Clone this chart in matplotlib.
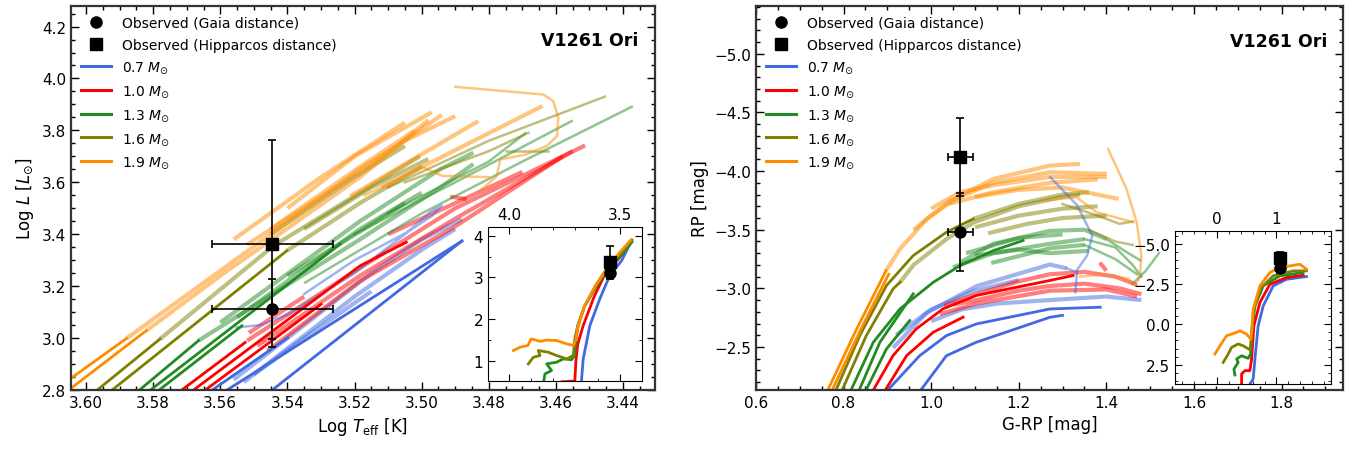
import matplotlib
matplotlib.use("Agg")
import matplotlib.pyplot as plt
from matplotlib.lines import Line2D
from matplotlib.ticker import MultipleLocator

# ---------------------------------------------------------------
# observed values
obs_teff = 3.5445
obs_teff_err = 0.018
obs_logl_gaia = 3.111
obs_logl_gaia_err = 0.115
obs_logl_hip = 3.364
obs_logl_hip_err = 0.398

obs_grp = 1.067
obs_grp_err = 0.029
obs_rp_gaia = -3.48
obs_rp_hip = -4.12
obs_rp_err = 0.33

masses = ["0.7", "1.0", "1.3", "1.6", "1.9"]
colors = ["royalblue", "red", "forestgreen", "olive", "darkorange"]

# ---------------------------------------------------------------
# HR diagram tracks (log Teff, log L)
# solid = fitted part, faded = rest of the track, thin = faded loops
hr_solid_07 = [
    ([3.5455, 3.488], [2.79, 3.374]),
    ([3.5592, 3.488], [2.79, 3.374]),
    ([3.5635, 3.540], [2.79, 3.00]),
]
hr_faded_07 = [
    ([3.556, 3.548, 3.530, 3.515, 3.500, 3.488], [2.84, 2.92, 3.10, 3.25, 3.38, 3.458]),
    ([3.553, 3.540, 3.520, 3.500, 3.490], [2.83, 2.96, 3.16, 3.34, 3.42]),
    ([3.550, 3.535, 3.515], [2.86, 3.00, 3.18]),
]
hr_thin_07 = [
    ([3.5551, 3.548, 3.540, 3.520, 3.505, 3.497, 3.494, 3.497, 3.5044, 3.520, 3.535],
     [3.041, 3.05, 3.09, 3.25, 3.40, 3.49, 3.51, 3.47, 3.407, 3.30, 3.17]),
]
hr_solid_10 = [
    ([3.5725, 3.5526], [2.79, 2.983]),
    ([3.569, 3.5184, 3.5046], [2.79, 3.278, 3.369]),
    ([3.5655, 3.530], [2.79, 3.13]),
]
hr_faded_10 = [
    ([3.552, 3.5184, 3.49, 3.4513], [2.99, 3.27, 3.50, 3.742]),
    ([3.549, 3.5184, 3.49, 3.455], [2.97, 3.24, 3.46, 3.72]),
    ([3.546, 3.5184, 3.49, 3.458], [2.95, 3.22, 3.43, 3.70]),
    ([3.5515, 3.535], [3.02, 3.16]),
    ([3.4915, 3.4866], [3.545, 3.535]),
    ([3.510, 3.470], [3.40, 3.64]),
]
hr_thin_10 = []
hr_solid_13 = [
    ([3.585, 3.5665], [2.79, 2.99]),
    ([3.5818, 3.5243], [2.79, 3.362]),
    ([3.5792, 3.5536], [2.79, 3.047]),
]
hr_faded_13 = [
    ([3.5665, 3.5184, 3.4945, 3.4846], [2.99, 3.38, 3.58, 3.67]),
    ([3.560, 3.5184, 3.4945, 3.4846], [3.06, 3.45, 3.65, 3.714]),
    ([3.555, 3.5184, 3.500], [3.08, 3.42, 3.56]),
    ([3.540, 3.5184, 3.505], [3.24, 3.41, 3.52]),
]
hr_thin_13 = [
    ([3.5347, 3.500, 3.470, 3.4374], [3.214, 3.48, 3.68, 3.891]),
    ([3.520, 3.490, 3.4553], [3.40, 3.60, 3.836]),
    ([3.510, 3.480, 3.4692], [3.48, 3.68, 3.788]),
]
hr_solid_16 = [
    ([3.5976, 3.578], [2.79, 2.996]),
    ([3.5932, 3.5402], [2.79, 3.336]),
]
hr_faded_16 = [
    ([3.578, 3.5442, 3.5184, 3.5005], [2.996, 3.355, 3.56, 3.701]),
    ([3.5402, 3.5184, 3.500], [3.336, 3.52, 3.66]),
    ([3.545, 3.520, 3.505], [3.40, 3.62, 3.74]),
    ([3.535, 3.515, 3.498], [3.42, 3.58, 3.69]),
]
hr_thin_16 = [
    ([3.510, 3.480, 3.4454], [3.58, 3.76, 3.93]),
    ([3.505, 3.480, 3.4682], [3.60, 3.72, 3.791]),
    ([3.475, 3.4625], [3.72, 3.72]),
]
hr_solid_19 = [
    ([3.610, 3.5879], [2.794, 2.999]),
    ([3.610, 3.5821], [2.752, 3.028]),
]
hr_faded_19 = [
    ([3.5879, 3.5442, 3.5184, 3.505, 3.490], [2.999, 3.407, 3.65, 3.76, 3.855]),
    ([3.5821, 3.560, 3.5184, 3.498], [3.028, 3.24, 3.62, 3.84]),
    ([3.552, 3.5184, 3.494], [3.36, 3.64, 3.86]),
    ([3.545, 3.5184, 3.502], [3.42, 3.66, 3.80]),
    ([3.556, 3.530, 3.505], [3.38, 3.62, 3.83]),
    ([3.540, 3.520, 3.497], [3.50, 3.70, 3.87]),
    ([3.5213, 3.4831], [3.547, 3.836]),
    ([3.512, 3.464], [3.58, 3.894]),
]
hr_thin_19 = [
    ([3.490, 3.4637, 3.4608, 3.4593, 3.4597, 3.4627, 3.4687, 3.4766, 3.4776, 3.4826],
     [3.968, 3.938, 3.913, 3.849, 3.778, 3.740, 3.708, 3.688, 3.624, 3.567]),
    ([3.517, 3.500, 3.494, 3.480], [3.55, 3.66, 3.625, 3.62]),
]

# HR inset: full tracks
ins_hr_x = [
    [3.675, 3.673, 3.665, 3.635, 3.590, 3.545, 3.492, 3.447],
    [3.760, 3.703, 3.698, 3.690, 3.665, 3.615, 3.565, 3.505, 3.450],
    [3.845, 3.838, 3.808, 3.830, 3.785, 3.755, 3.718, 3.703, 3.698, 3.688,
     3.660, 3.610, 3.560, 3.500, 3.445],
    [3.913, 3.890, 3.860, 3.868, 3.823, 3.785, 3.740, 3.710, 3.703, 3.690,
     3.660, 3.610, 3.560, 3.500, 3.445],
    [3.980, 3.950, 3.915, 3.900, 3.880, 3.860, 3.830, 3.785, 3.740, 3.710,
     3.698, 3.690, 3.660, 3.610, 3.560, 3.500, 3.450],
]
ins_hr_y = [
    [0.30, 0.52, 1.05, 1.85, 2.49, 3.05, 3.40, 3.88],
    [0.50, 0.52, 1.00, 1.40, 1.85, 2.55, 3.10, 3.45, 3.85],
    [0.45, 0.69, 0.77, 0.93, 0.97, 1.05, 1.03, 1.13, 1.50, 1.85,
     2.30, 2.75, 3.15, 3.50, 3.85],
    [0.93, 1.09, 1.13, 1.25, 1.21, 1.13, 1.05, 1.13, 1.53, 1.85,
     2.30, 2.80, 3.20, 3.55, 3.90],
    [1.25, 1.33, 1.37, 1.53, 1.50, 1.47, 1.50, 1.49, 1.41, 1.37,
     1.50, 1.80, 2.30, 2.80, 3.20, 3.60, 3.90],
]

# ---------------------------------------------------------------
# CMD tracks (G-RP, RP)
cmd_solid_07 = [
    ([0.893, 0.974, 1.035, 1.103, 1.271, 1.386], [-2.10, -2.426, -2.597, -2.696, -2.824, -2.839]),
    ([0.970, 1.035, 1.103, 1.271, 1.300], [-2.10, -2.426, -2.54, -2.753, -2.77]),
]
cmd_faded_07 = [
    ([0.913, 0.990, 1.103, 1.271, 1.310], [-2.493, -2.791, -3.018, -3.203, -3.17]),
    ([1.000, 1.070, 1.150, 1.271, 1.400, 1.480], [-2.72, -2.82, -2.87, -2.90, -2.93, -2.90]),
    ([0.920, 1.000, 1.100, 1.200], [-2.60, -2.82, -2.98, -3.07]),
]
cmd_thin_07 = [
    ([1.310, 1.330, 1.356, 1.368, 1.333, 1.272], [-3.17, -3.14, -3.28, -3.45, -3.71, -3.948]),
    ([1.329, 1.333], [-2.967, -3.137]),
]
cmd_solid_10 = [
    ([0.863, 0.913, 0.966, 1.027, 1.103, 1.271, 1.324], [-2.10, -2.426, -2.654, -2.825, -2.939, -3.067, -3.109]),
    ([0.890, 0.944, 1.005, 1.073], [-2.10, -2.426, -2.626, -2.754]),
]
cmd_faded_10 = [
    ([1.030, 1.103, 1.200, 1.271, 1.350, 1.420, 1.470], [-2.85, -2.95, -3.06, -3.12, -3.14, -3.10, -3.03]),
    ([1.050, 1.103, 1.200, 1.271, 1.350, 1.430, 1.480], [-2.86, -2.90, -2.98, -3.02, -3.04, -3.00, -2.95]),
    ([1.020, 1.103, 1.271, 1.400, 1.470], [-2.78, -2.87, -2.98, -2.99, -2.93]),
    ([1.385, 1.400], [-3.22, -3.15]),
]
cmd_thin_10 = []
cmd_solid_13 = [
    ([0.813, 0.868, 0.929, 1.005, 1.066, 1.142, 1.210], [-2.10, -2.540, -2.825, -3.052, -3.194, -3.322, -3.408]),
    ([0.832, 0.883, 0.959], [-2.10, -2.540, -2.953]),
    ([0.847, 0.898, 0.951], [-2.10, -2.483, -2.725]),
]
cmd_faded_13 = [
    ([1.066, 1.142, 1.271, 1.350, 1.400], [-3.22, -3.38, -3.49, -3.50, -3.42]),
    ([1.050, 1.142, 1.271, 1.350], [-3.18, -3.30, -3.38, -3.42]),
    ([1.100, 1.200, 1.271, 1.360], [-3.28, -3.33, -3.30, -3.32]),
    ([1.080, 1.200, 1.300], [-3.30, -3.43, -3.46]),
    ([1.137, 1.274, 1.350], [-3.216, -3.344, -3.37]),
]
cmd_thin_13 = [
    ([1.400, 1.450, 1.477], [-3.42, -3.30, -3.24]),
    ([1.350, 1.420, 1.460, 1.480], [-3.42, -3.35, -3.20, -3.10]),
    ([1.350, 1.420, 1.470], [-3.37, -3.25, -3.12]),
    ([1.460, 1.490, 1.520], [-3.04, -3.15, -3.30]),
]
cmd_solid_16 = [
    ([0.779, 0.837, 0.898, 0.959, 1.035, 1.096], [-2.10, -2.597, -3.024, -3.279, -3.479, -3.592]),
    ([0.793, 0.852, 0.913, 0.929], [-2.10, -2.597, -2.995, -3.052]),
]
cmd_faded_16 = [
    ([0.929, 0.960, 1.035, 1.096, 1.200, 1.300, 1.340], [-3.052, -3.20, -3.42, -3.56, -3.70, -3.78, -3.80]),
    ([1.096, 1.200, 1.300, 1.360], [-3.592, -3.72, -3.80, -3.82]),
    ([1.100, 1.200, 1.300, 1.380], [-3.52, -3.62, -3.68, -3.70]),
    ([1.130, 1.220, 1.300, 1.400], [-3.47, -3.55, -3.60, -3.62]),
]
cmd_thin_16 = [
    ([1.300, 1.380, 1.430, 1.460], [-3.72, -3.62, -3.55, -3.57]),
    ([1.360, 1.420, 1.460], [-3.50, -3.40, -3.37]),
]
cmd_solid_19 = [
    ([0.760, 0.830, 0.897], [-2.10, -2.654, -3.151]),
    ([0.770, 0.840, 0.903], [-2.10, -2.654, -3.120]),
]
cmd_faded_19 = [
    ([0.897, 0.929, 0.990, 1.066, 1.142, 1.271, 1.340], [-3.151, -3.336, -3.592, -3.791, -3.933, -4.047, -4.061]),
    ([0.960, 1.040, 1.142, 1.271, 1.401], [-3.50, -3.74, -3.90, -3.99, -3.976]),
    ([1.000, 1.066, 1.142, 1.271, 1.401], [-3.68, -3.82, -3.88, -3.95, -3.95]),
    ([1.040, 1.142, 1.271, 1.380], [-3.72, -3.82, -3.90, -3.93]),
    ([1.100, 1.200, 1.300, 1.428], [-3.78, -3.84, -3.86, -3.763]),
]
cmd_thin_19 = [
    ([1.404, 1.446, 1.469, 1.480, 1.477, 1.473], [-4.189, -3.848, -3.564, -3.28, -3.109, -3.067]),
    ([1.256, 1.332, 1.378, 1.461], [-3.748, -3.777, -3.649, -3.564]),
    ([1.340, 1.400, 1.450, 1.470], [-3.10, -3.12, -3.08, -3.02]),
]

# CMD inset: full tracks
ins_cmd_x = [
    [0.551, 0.551, 0.607, 0.636, 0.691, 0.776, 0.944, 1.170, 1.507],
    [0.411, 0.411, 0.467, 0.551, 0.580, 0.619, 0.720, 0.889, 1.170, 1.450],
    [0.298, 0.282, 0.354, 0.327, 0.411, 0.523, 0.563, 0.580, 0.636, 0.776, 1.057, 1.450],
    [0.101, 0.186, 0.242, 0.354, 0.438, 0.551, 0.580, 0.607, 0.720, 0.944, 1.282, 1.507],
    [-0.039, 0.046, 0.158, 0.242, 0.327, 0.383, 0.495, 0.563, 0.580, 0.607, 0.720,
     0.889, 1.057, 1.395, 1.507],
]
ins_cmd_y = [
    [4.00, 3.70, 3.39, 2.15, 0.09, -1.14, -2.38, -2.79, -2.96],
    [4.00, 3.08, 2.87, 2.87, 2.15, 0.09, -1.35, -2.48, -2.90, -3.04],
    [3.14, 2.77, 2.36, 2.15, 1.95, 2.11, 1.84, 0.50, -1.14, -2.38, -3.00, -3.21],
    [2.36, 1.84, 1.43, 1.22, 1.33, 1.58, 0.91, -0.74, -2.18, -3.00, -3.31, -3.31],
    [1.84, 1.33, 0.71, 0.61, 0.50, 0.40, 0.61, 0.91, 0.50, -0.94, -2.38,
     -3.21, -3.52, -3.72, -3.41],
]

hr_solid = [hr_solid_07, hr_solid_10, hr_solid_13, hr_solid_16, hr_solid_19]
hr_faded = [hr_faded_07, hr_faded_10, hr_faded_13, hr_faded_16, hr_faded_19]
hr_thin = [hr_thin_07, hr_thin_10, hr_thin_13, hr_thin_16, hr_thin_19]
cmd_solid = [cmd_solid_07, cmd_solid_10, cmd_solid_13, cmd_solid_16, cmd_solid_19]
cmd_faded = [cmd_faded_07, cmd_faded_10, cmd_faded_13, cmd_faded_16, cmd_faded_19]
cmd_thin = [cmd_thin_07, cmd_thin_10, cmd_thin_13, cmd_thin_16, cmd_thin_19]


def draw_tracks(ax, solid, faded, thin):
    for c, segs in zip(colors, faded):
        for xs, ys in segs:
            ax.plot(xs, ys, color=c, alpha=0.5, lw=3.0, solid_capstyle="butt")
    for c, segs in zip(colors, thin):
        for xs, ys in segs:
            ax.plot(xs, ys, color=c, alpha=0.5, lw=1.8)
    for c, segs in zip(colors, solid):
        for xs, ys in segs:
            ax.plot(xs, ys, color=c, lw=2.0)


def style_axes(ax, frame_lw=1.6):
    ax.tick_params(which="both", direction="in", top=True, right=True, labelsize=11)
    ax.tick_params(which="major", length=6, width=1)
    ax.tick_params(which="minor", length=3, width=1)
    for sp in ax.spines.values():
        sp.set_linewidth(frame_lw)
        sp.set_color("#333333")


def add_legend(ax):
    handles = [
        Line2D([], [], ls="none", marker="o", color="k", ms=8),
        Line2D([], [], ls="none", marker="s", color="k", ms=8),
    ]
    labels = ["Observed (Gaia distance)", "Observed (Hipparcos distance)"]
    for m, c in zip(masses, colors):
        handles.append(Line2D([], [], color=c, lw=2.2))
        labels.append(m + r" $M_{\odot}$")
    ax.legend(handles, labels, loc="upper left", frameon=False, fontsize=10,
              handlelength=2.2, labelspacing=0.58, borderaxespad=0.3,
              bbox_to_anchor=(0.0, 1.0))


def plot_obs(ax, x, xerr, ys, yerrs):
    for y, yerr, m in zip(ys, yerrs, ["o", "s"]):
        ax.errorbar(x, y, xerr=xerr, yerr=yerr, fmt=m, color="k", ms=8, capsize=3,
                    elinewidth=1.2, capthick=1.2, zorder=10)


fig = plt.figure(figsize=(13.54, 4.52), dpi=100)

# ---------------- left: HR diagram ----------------
ax1 = fig.add_axes([0.0524, 0.135, 0.4313, 0.850])
draw_tracks(ax1, hr_solid, hr_faded, hr_thin)
plot_obs(ax1, obs_teff, obs_teff_err, [obs_logl_gaia, obs_logl_hip],
         [obs_logl_gaia_err, obs_logl_hip_err])
ax1.set_xlim(3.6045, 3.4305)
ax1.set_ylim(2.8, 4.28)
ax1.xaxis.set_major_locator(MultipleLocator(0.02))
ax1.xaxis.set_minor_locator(MultipleLocator(0.005))
ax1.yaxis.set_major_locator(MultipleLocator(0.2))
ax1.yaxis.set_minor_locator(MultipleLocator(0.05))
ax1.set_xlabel(r"Log $T_{\rm eff}$ [K]", fontsize=12)
ax1.set_ylabel(r"Log $L$ [$L_{\odot}$]", fontsize=12)
style_axes(ax1)
add_legend(ax1)
ax1.text(0.972, 0.912, "V1261 Ori", transform=ax1.transAxes, ha="right", va="center",
         fontsize=12.5, fontweight="bold")

ins1 = fig.add_axes([0.3604, 0.1549, 0.1137, 0.3407])
for c, xs, ys in zip(colors, ins_hr_x, ins_hr_y):
    ins1.plot(xs, ys, color=c, lw=2.0)
plot_obs(ins1, obs_teff, obs_teff_err, [obs_logl_gaia, obs_logl_hip],
         [obs_logl_gaia_err, obs_logl_hip_err])
ins1.set_xlim(4.095, 3.40)
ins1.set_ylim(0.52, 4.21)
ins1.xaxis.set_major_locator(MultipleLocator(0.5))
ins1.xaxis.set_minor_locator(MultipleLocator(0.1))
ins1.yaxis.set_major_locator(MultipleLocator(1))
ins1.yaxis.set_minor_locator(MultipleLocator(0.5))
ins1.tick_params(which="both", direction="in", top=True, right=True, bottom=True,
                 labeltop=True, labelbottom=False, labelsize=11)
ins1.tick_params(which="major", length=5)
ins1.tick_params(which="minor", length=2.5)

# ---------------- right: CMD ----------------
ax2 = fig.add_axes([0.5583, 0.135, 0.4335, 0.850])
draw_tracks(ax2, cmd_solid, cmd_faded, cmd_thin)
plot_obs(ax2, obs_grp, obs_grp_err, [obs_rp_gaia, obs_rp_hip], [obs_rp_err, obs_rp_err])
ax2.set_xlim(0.6, 1.94)
ax2.set_ylim(-2.133, -5.41)
ax2.xaxis.set_major_locator(MultipleLocator(0.2))
ax2.xaxis.set_minor_locator(MultipleLocator(0.05))
ax2.yaxis.set_major_locator(MultipleLocator(0.5))
ax2.yaxis.set_minor_locator(MultipleLocator(0.1))
ax2.set_xlabel("G-RP [mag]", fontsize=12)
ax2.set_ylabel("RP [mag]", fontsize=12)
style_axes(ax2)
add_legend(ax2)
ax2.text(0.973, 0.908, "V1261 Ori", transform=ax2.transAxes, ha="right", va="center",
         fontsize=12.5, fontweight="bold")

ins2 = fig.add_axes([0.8678, 0.1482, 0.1152, 0.3385])
for c, xs, ys in zip(colors, ins_cmd_x, ins_cmd_y):
    ins2.plot(xs, ys, color=c, lw=2.0)
plot_obs(ins2, obs_grp, obs_grp_err, [obs_rp_gaia, obs_rp_hip], [obs_rp_err, obs_rp_err])
ins2.set_xlim(-0.713, 1.92)
ins2.set_ylim(3.70, -5.78)
ins2.xaxis.set_major_locator(MultipleLocator(1))
ins2.xaxis.set_minor_locator(MultipleLocator(0.2))
ins2.yaxis.set_major_locator(MultipleLocator(2.5))
ins2.yaxis.set_minor_locator(MultipleLocator(0.5))
ins2.tick_params(which="both", direction="in", top=True, right=True, bottom=True,
                 labeltop=True, labelbottom=False, labelsize=11)
ins2.tick_params(which="major", length=5)
ins2.tick_params(which="minor", length=2.5)

fig.savefig("out.png", dpi=100)
